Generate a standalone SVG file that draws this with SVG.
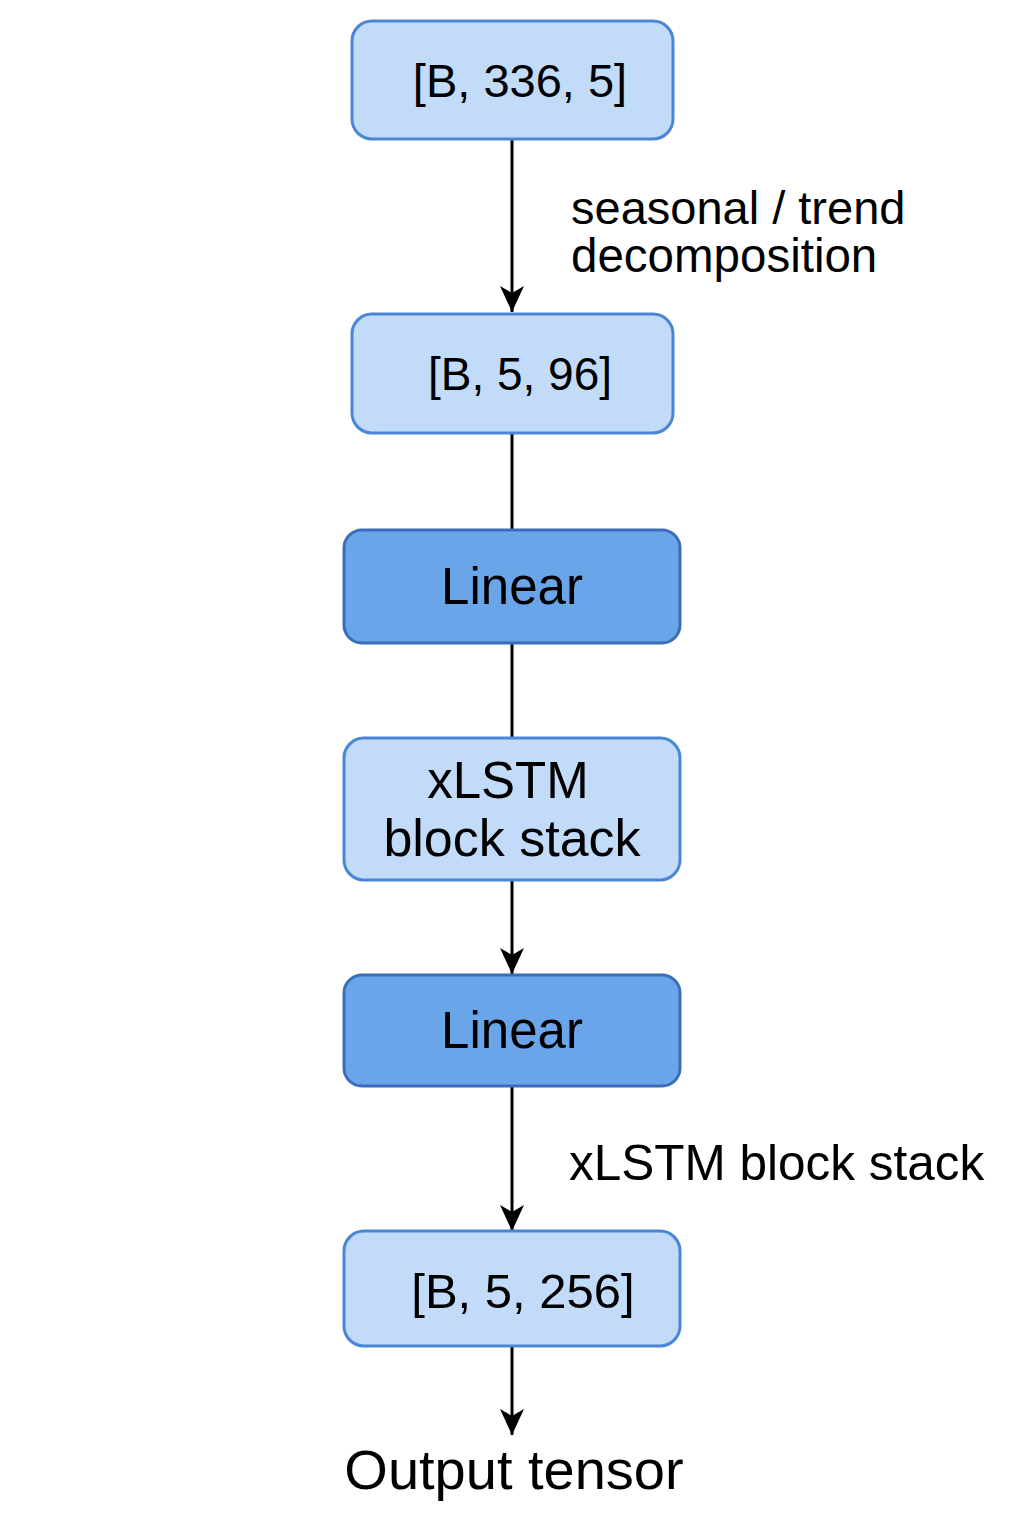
<svg xmlns="http://www.w3.org/2000/svg" width="1024" height="1536" viewBox="0 0 1024 1536">
<defs>
<style>
.light{fill:#c2dbf9;stroke:#4a86d6;stroke-width:3}
.dark{fill:#6aa5ea;stroke:#3a6fb8;stroke-width:3}
.t{font-family:"Liberation Sans",Arial,sans-serif;fill:#000}
.c{text-anchor:middle}
.line{stroke:#000;stroke-width:3;fill:none}
</style>
<marker id="ah" markerWidth="26" markerHeight="24" refX="26" refY="12" orient="auto" markerUnits="userSpaceOnUse" viewBox="0 0 26 24">
<path d="M0,0 L26,12 L0,24 L7,12 Z" fill="#000"/>
</marker>
</defs>
<rect width="1024" height="1536" fill="#fff"/>
<g id="connectors">
<line class="line" x1="512" y1="139" x2="512" y2="312" marker-end="url(#ah)"/>
<line class="line" x1="512" y1="433" x2="512" y2="530"/>
<line class="line" x1="512" y1="643" x2="512" y2="738"/>
<line class="line" x1="512" y1="880" x2="512" y2="974" marker-end="url(#ah)"/>
<line class="line" x1="512" y1="1086" x2="512" y2="1231" marker-end="url(#ah)"/>
<line class="line" x1="512" y1="1346" x2="512" y2="1435" marker-end="url(#ah)"/>
<text class="t" x="571" y="224" font-size="47">seasonal / trend</text>
<text class="t" x="571" y="272" font-size="47.5">decomposition</text>
<text class="t" x="569" y="1180" font-size="49.5">xLSTM block stack</text>
</g>
<g id="n1">
<rect class="light" x="352" y="21" width="321" height="118" rx="20"/>
<text class="t c" x="520" y="97" font-size="47">[B, 336, 5]</text>
</g>
<g id="n2">
<rect class="light" x="352" y="314" width="321" height="119" rx="20"/>
<text class="t c" x="520" y="390" font-size="46">[B, 5, 96]</text>
</g>
<g id="n3">
<rect class="dark" x="344" y="530" width="336" height="113" rx="18"/>
<text class="t c" x="512" y="604" font-size="51">Linear</text>
</g>
<g id="n4">
<rect class="light" x="344" y="738" width="336" height="142" rx="20"/>
<text class="t c" x="508" y="798" font-size="51">xLSTM</text>
<text class="t c" x="512" y="856" font-size="52">block stack</text>
</g>
<g id="n5">
<rect class="dark" x="344" y="975" width="336" height="111" rx="18"/>
<text class="t c" x="512" y="1048" font-size="51">Linear</text>
</g>
<g id="n6">
<rect class="light" x="344" y="1231" width="336" height="115" rx="20"/>
<text class="t c" x="523" y="1308" font-size="49">[B, 5, 256]</text>
</g>
<g id="out">
<text class="t c" x="514" y="1489" font-size="56">Output tensor</text>
</g>
</svg>
